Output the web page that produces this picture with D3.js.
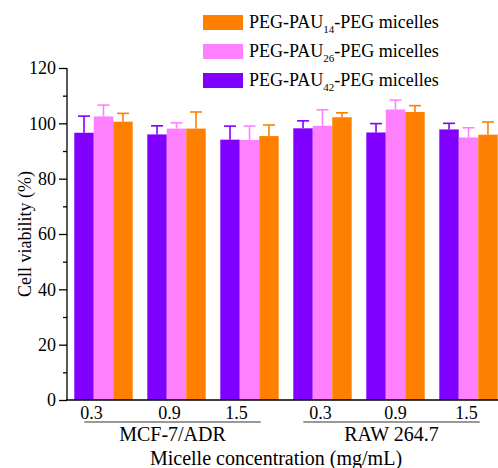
<!DOCTYPE html>
<html>
<head>
<meta charset="utf-8">
<script src="https://cdn.jsdelivr.net/npm/d3@7"></script>
<style>
  body { margin: 0; background: #fff; }
</style>
</head>
<body>
<div id="chart"></div>
<script>
// data
let groups = ['M0.3', 'M0.9', 'M1.5', 'R0.3', 'R0.9', 'R1.5'];
let groupLabels = ['0.3', '0.9', '1.5', '0.3', '0.9', '1.5'];
let labelShift = [-12, -7, -13, -2, 0, -2];
let seriesNames = ['42', '26', '14'];
let seriesColors = ['#8000ff', '#ff80ff', '#ff8000'];
let pau42 = [96.6, 96.0, 94.1, 98.2, 96.7, 97.8];
let pau42Err = [6.0, 3.1, 4.9, 2.7, 3.2, 2.2];
let pau26 = [102.5, 98.1, 94.0, 99.1, 105.0, 94.9];
let pau26Err = [4.1, 2.1, 5.0, 5.8, 3.4, 3.5];
let pau14 = [100.6, 98.1, 95.4, 102.2, 104.1, 95.9];
let pau14Err = [3.0, 6.0, 4.0, 1.6, 2.3, 4.6];
let cellLines = [
  {name: 'MCF-7/ADR', from: 0, to: 2},
  {name: 'RAW 264.7', from: 3, to: 5}
];

let values = [pau42, pau26, pau14];
let errors = [pau42Err, pau26Err, pau14Err];
let serif = 'Liberation Serif';

let width = 498, height = 468;
let svg = d3.select('#chart').append('svg')
    .attr('width', width)
    .attr('height', height);

let x = d3.scaleBand().domain(groups).range([67, 505]).paddingInner(0.2).paddingOuter(0.1);
let xs = d3.scaleBand().domain(seriesNames).range([0, x.bandwidth()]);
let y = d3.scaleLinear().domain([0, 120]).range([400, 68]);

// bars + error bars
seriesNames.forEach(function(s, si) {
  let g = svg.append('g');
  groups.forEach(function(grp, gi) {
    let x0 = x(grp) + xs(s);
    let v = values[si][gi];
    let e = errors[si][gi];
    let cx = x0 + xs.bandwidth() / 2;
    g.append('line')
        .attr('x1', cx).attr('x2', cx)
        .attr('y1', y(v)).attr('y2', y(v + e))
        .attr('stroke', seriesColors[si]).attr('stroke-width', 1.6);
    g.append('line')
        .attr('x1', cx - 6).attr('x2', cx + 6)
        .attr('y1', y(v + e)).attr('y2', y(v + e))
        .attr('stroke', seriesColors[si]).attr('stroke-width', 1.6);
    g.append('rect')
        .attr('x', x0)
        .attr('y', y(v))
        .attr('width', xs.bandwidth())
        .attr('height', y(0) - y(v))
        .attr('fill', seriesColors[si]);
  });
});

// y axis
let yAxis = svg.append('g')
    .attr('transform', 'translate(67,0)')
    .call(d3.axisLeft(y).tickValues(d3.range(0, 121, 20)).tickSize(8).tickPadding(3));
yAxis.attr('font-family', serif).attr('font-size', 18);
yAxis.select('.domain').attr('stroke-width', 1.3).attr('d', 'M0,' + y(0) + 'V' + y(120));
yAxis.selectAll('.tick line').attr('stroke-width', 1.3);
svg.append('g')
    .attr('transform', 'translate(67,0)')
    .call(d3.axisLeft(y).tickValues(d3.range(10, 120, 20)).tickSize(4).tickFormat(''))
    .call(function(g) { g.select('.domain').remove(); })
    .selectAll('.tick line').attr('stroke-width', 1.3);

// x baseline
svg.append('line')
    .attr('x1', 66).attr('x2', width)
    .attr('y1', y(0)).attr('y2', y(0))
    .attr('stroke', '#000').attr('stroke-width', 1.3);

// group labels
svg.selectAll('.glabel')
  .data(groups)
  .enter().append('text')
    .attr('class', 'glabel')
    .attr('x', function(d, i) { return x(d) + x.bandwidth() / 2 + labelShift[i]; })
    .attr('y', 419)
    .attr('text-anchor', 'middle')
    .attr('font-family', serif)
    .attr('font-size', 18)
    .text(function(d, i) { return groupLabels[i]; });

// cell line brackets
cellLines.forEach(function(c) {
  let a = x(groups[c.from]) + 10;
  let b = x(groups[c.to]) + x.bandwidth() - 18;
  svg.append('line')
      .attr('x1', a).attr('x2', b)
      .attr('y1', 422).attr('y2', 422)
      .attr('stroke', '#777').attr('stroke-width', 1.3);
  svg.append('text')
      .attr('x', (a + b) / 2)
      .attr('y', 441)
      .attr('text-anchor', 'middle')
      .attr('font-family', serif)
      .attr('font-size', 20)
      .text(c.name);
});

svg.append('text')
    .attr('x', 276)
    .attr('y', 465)
    .attr('text-anchor', 'middle')
    .attr('font-family', serif)
    .attr('font-size', 20)
    .text('Micelle concentration (mg/mL)');

svg.append('text')
    .attr('transform', 'translate(31,234) rotate(-90)')
    .attr('text-anchor', 'middle')
    .attr('font-family', serif)
    .attr('font-size', 18)
    .text('Cell viability (%)');

// legend (top to bottom: 14, 26, 42)
let legendOrder = [2, 1, 0];
legendOrder.forEach(function(si, i) {
  let ly = 22 + i * 29;
  svg.append('rect')
      .attr('x', 203).attr('y', ly - 7)
      .attr('width', 40).attr('height', 15)
      .attr('fill', seriesColors[si]);
  let t = svg.append('text')
      .attr('x', 249).attr('y', ly + 6)
      .attr('font-family', serif)
      .attr('font-size', 18);
  t.append('tspan').text('PEG-PAU');
  t.append('tspan').attr('dy', 5).attr('font-size', 11).text(seriesNames[si]);
  t.append('tspan').attr('dy', -5).text('-PEG micelles');
});
</script>
</body>
</html>
